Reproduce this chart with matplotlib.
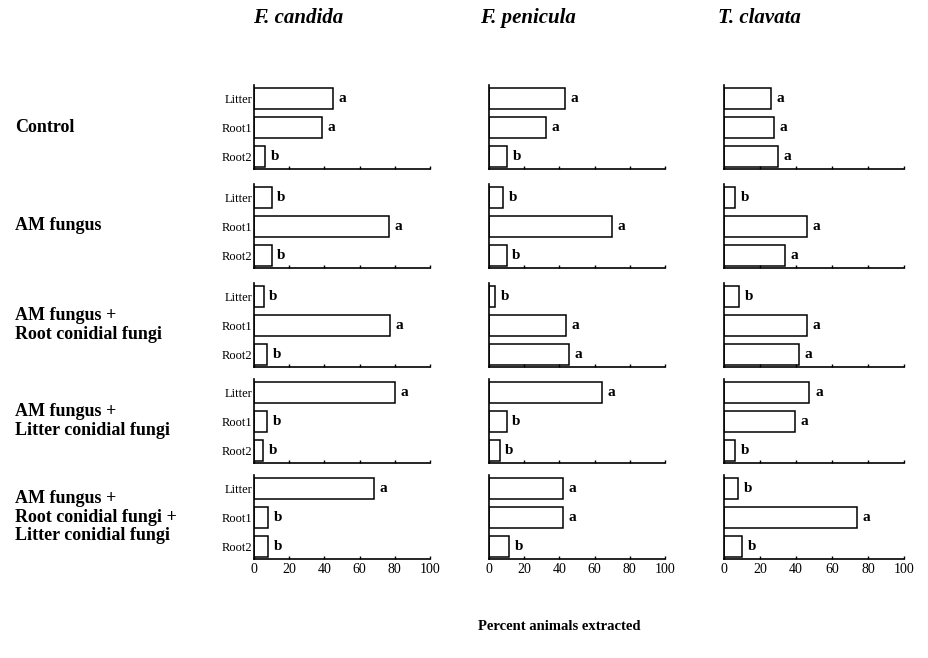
import matplotlib
matplotlib.use("Agg")
import matplotlib.pyplot as plt

plt.rcParams.update({
    "font.family": ["Liberation Serif", "DejaVu Serif"],
})

# data
groups = ["Control", "AM fungus", "AM fungus +\nRoot conidial fungi",
          "AM fungus +\nLitter conidial fungi",
          "AM fungus +\nRoot conidial fungi +\nLitter conidial fungi"]
species = ["F. candida", "F. penicula", "T. clavata"]
substrates = ["Litter", "Root1", "Root2"]
ticks = [0, 20, 40, 60, 80, 100]

candida_pct = [[45, 38.5, 6.5], [10, 76.5, 10], [5.5, 77, 7.5], [80, 7.5, 5], [68, 8, 8]]
candida_sig = [["a", "a", "b"], ["b", "a", "b"], ["b", "a", "b"], ["a", "b", "b"], ["a", "b", "b"]]
penicula_pct = [[43, 32.5, 10.5], [8, 70, 10], [3.5, 44, 45.5], [64, 10, 6], [42, 42, 11.5]]
penicula_sig = [["a", "a", "b"], ["b", "a", "b"], ["b", "a", "a"], ["a", "b", "b"], ["a", "a", "b"]]
clavata_pct = [[26, 28, 30], [6, 46, 34], [8.5, 46, 41.5], [47.5, 39.5, 6], [8, 74, 10]]
clavata_sig = [["a", "a", "a"], ["b", "a", "a"], ["b", "a", "a"], ["a", "a", "b"], ["b", "a", "b"]]

all_pct = [candida_pct, penicula_pct, clavata_pct]
all_sig = [candida_sig, penicula_sig, clavata_sig]

W, H = 929, 658
fig = plt.figure(figsize=(W / 100, H / 100), dpi=100)

col_left = [254, 489, 724]
col_width = [176, 176, 180]
row_bottom = [169, 268, 367, 463, 559]
row_h = 84
title_x = [298, 528, 759]

ypos = [2, 1, 0]
for c in range(3):
    for r in range(5):
        ax = fig.add_axes([col_left[c] / W, 1 - row_bottom[r] / H,
                           col_width[c] / W, row_h / H])
        vals = all_pct[c][r]
        ax.barh(ypos, vals, height=0.72, color="white", edgecolor="black",
                linewidth=1.1)
        for y, v, s in zip(ypos, vals, all_sig[c][r]):
            ax.annotate(s, (v, y), xytext=(4, 0), textcoords="offset points",
                        ha="left", va="center", fontsize=11, fontweight="bold")
        ax.set_xlim(0, 100)
        ax.set_ylim(-0.42, 2.48)
        ax.spines["top"].set_visible(False)
        ax.spines["right"].set_visible(False)
        ax.spines["left"].set_linewidth(1.2)
        ax.spines["bottom"].set_linewidth(1.2)
        ax.set_xticks(ticks)
        ax.tick_params(axis="x", direction="in", length=2.5, width=1,
                       labelsize=10, pad=3)
        if r < 4:
            ax.tick_params(axis="x", labelbottom=False)
        if c == 0:
            ax.set_yticks(ypos)
            ax.set_yticklabels(substrates, fontsize=9)
            ax.tick_params(axis="y", length=0, pad=1)
        else:
            ax.set_yticks([])
        if c == 0:
            fig.text(15 / W, 1 - (row_bottom[r] - row_h / 2) / H, groups[r],
                     ha="left", va="center", fontsize=13, fontweight="bold",
                     linespacing=1.1)
    fig.text(title_x[c] / W, 1 - 18 / H, species[c], ha="center", va="center",
             fontsize=15, fontweight="bold", style="italic")

fig.text(559 / W, 1 - 626 / H, "Percent animals extracted", ha="center",
         va="center", fontsize=10.5, fontweight="bold")

fig.savefig("out.png", dpi=100)
